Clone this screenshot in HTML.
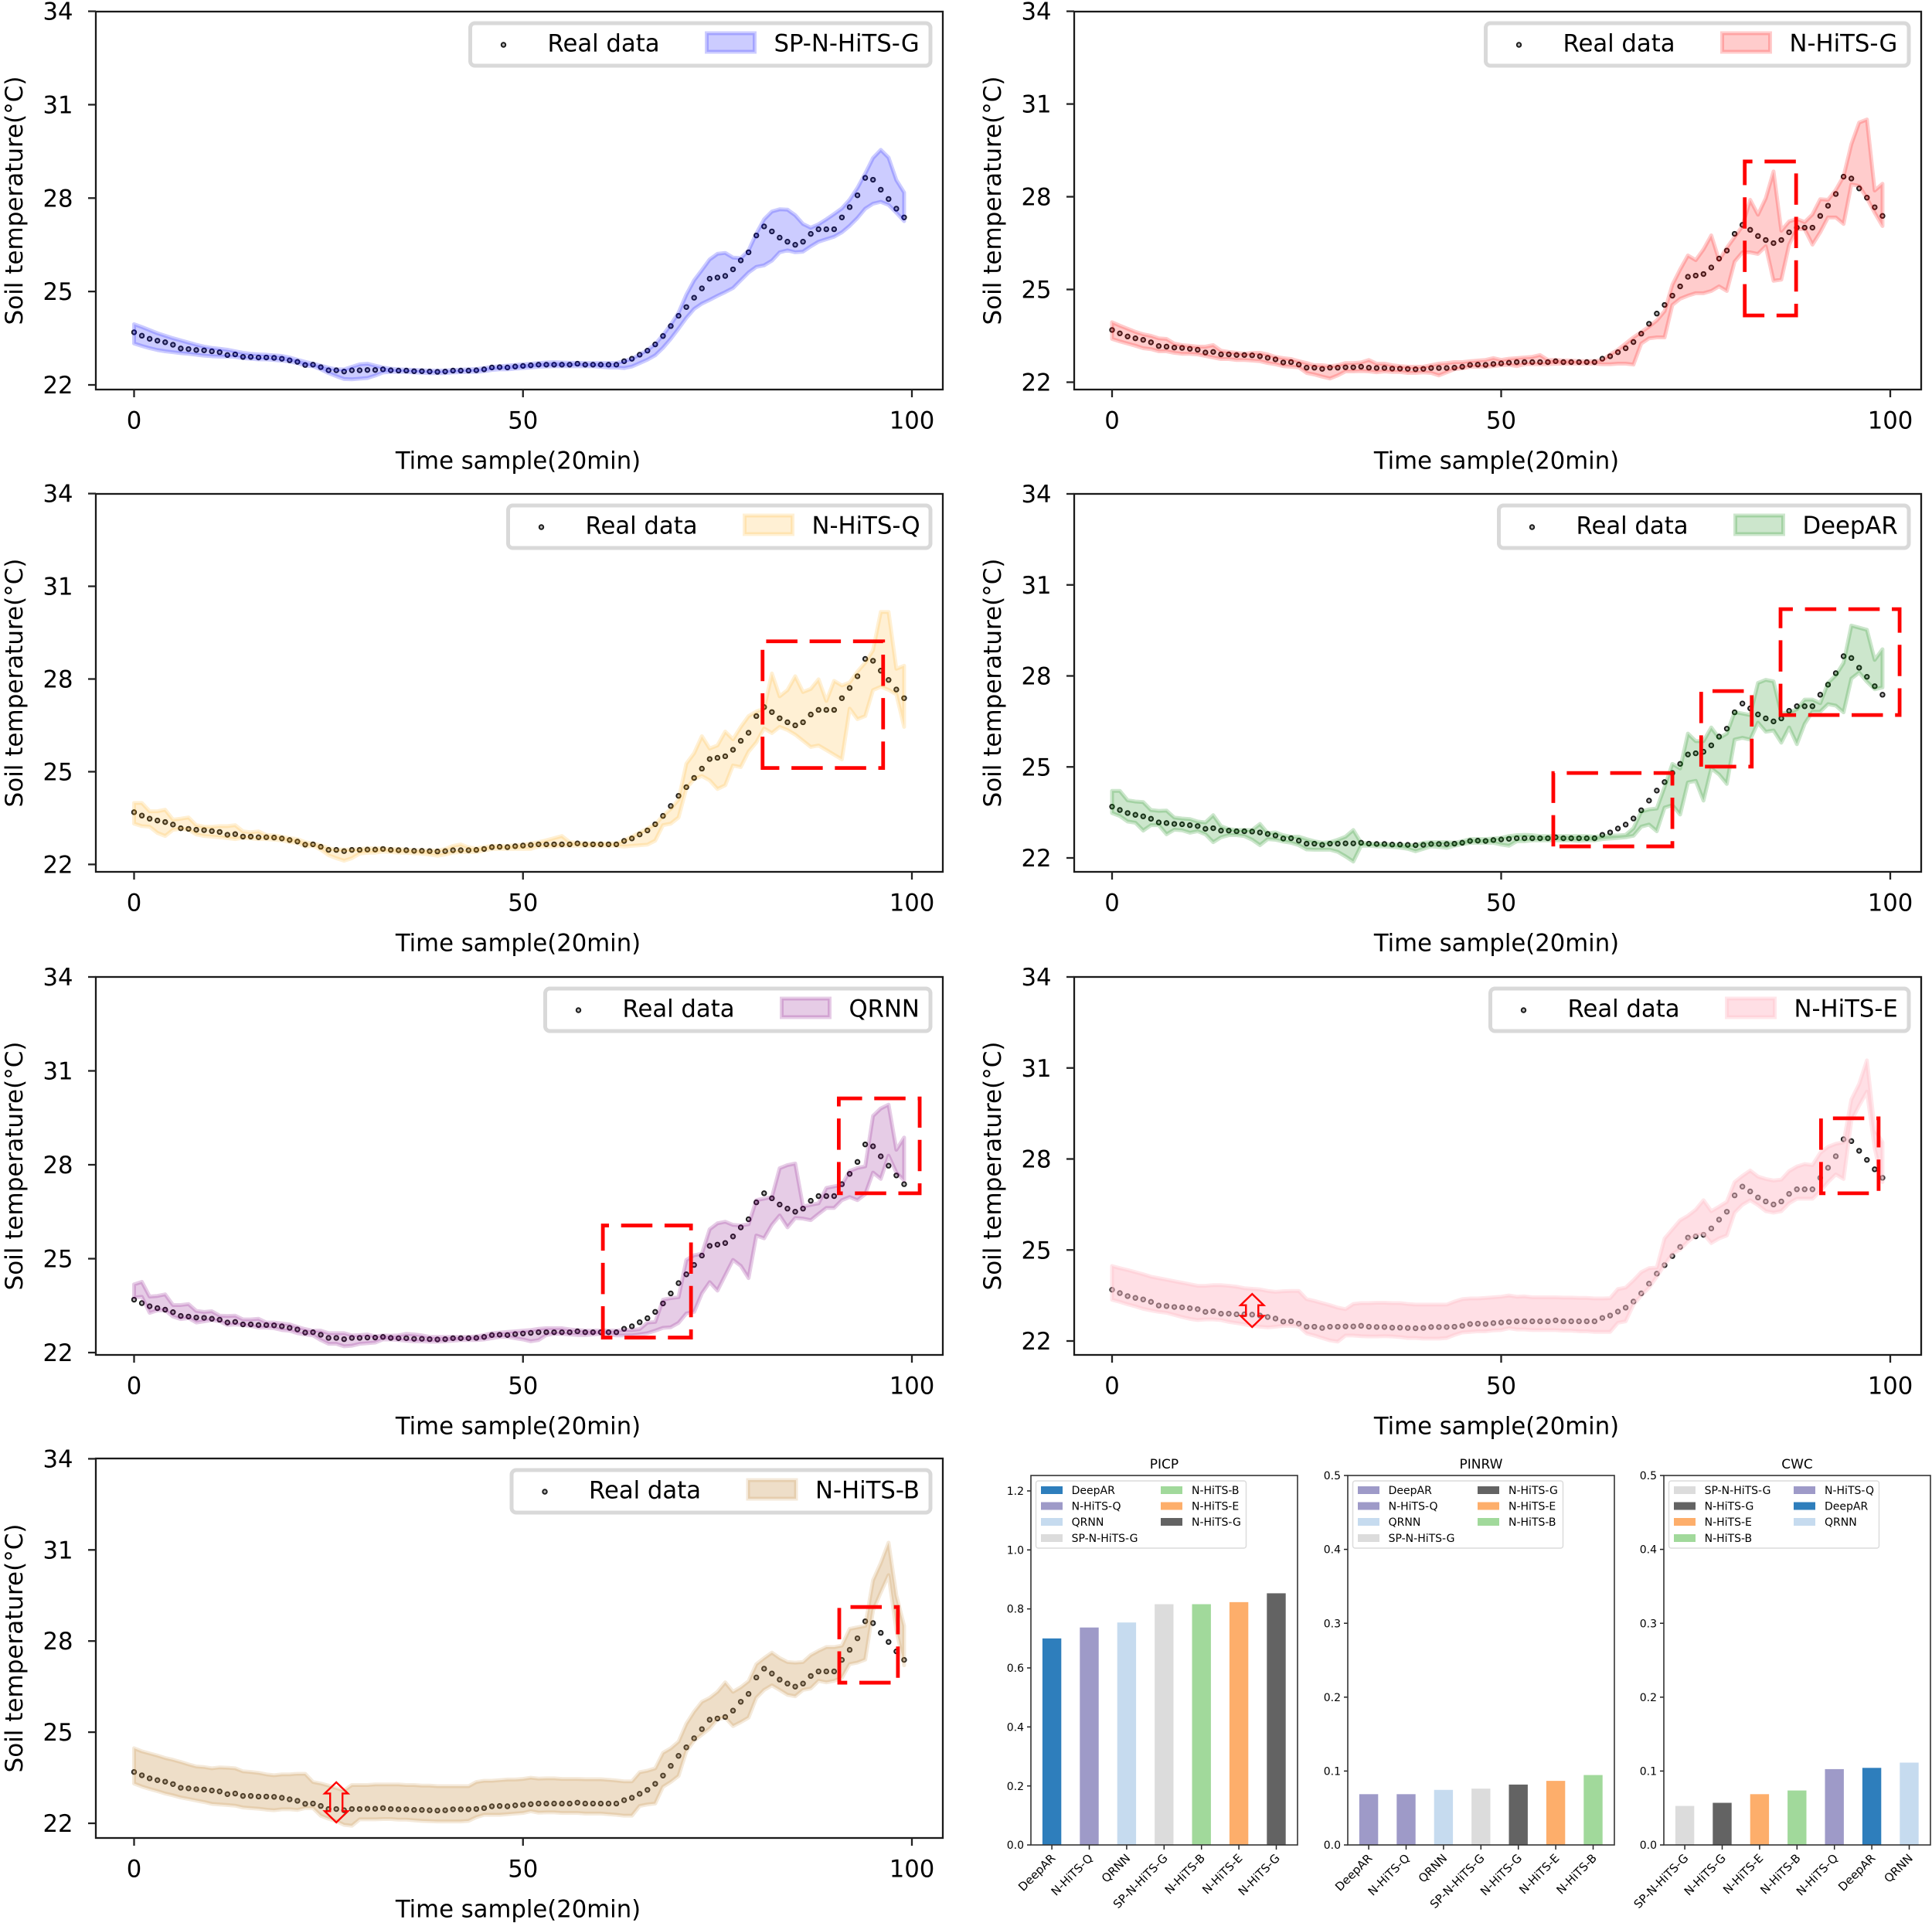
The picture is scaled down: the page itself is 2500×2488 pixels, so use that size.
<!DOCTYPE html>
<html lang="en">
<head>
<meta charset="utf-8">
<title>Soil temperature prediction intervals</title>
<style>
html,body{margin:0;padding:0;background:#fff;}
svg{display:block;position:absolute;left:0;top:0;}
text{font-family:"DejaVu Sans","Liberation Sans",sans-serif;fill:#000;}
</style>
</head>
<body>
<svg id="figure" xmlns="http://www.w3.org/2000/svg" width="2500" height="2488" viewBox="0 0 2500 2488"></svg>
<script>
const realData=[
23.69,23.58,23.48,23.42,23.37,23.29,23.17,23.15,23.12,23.11,
23.08,23.05,22.96,22.98,22.90,22.90,22.88,22.88,22.87,22.84,
22.79,22.74,22.64,22.65,22.57,22.47,22.47,22.43,22.47,22.47,
22.48,22.48,22.50,22.47,22.46,22.46,22.44,22.44,22.43,22.42,
22.43,22.46,22.46,22.46,22.47,22.50,22.56,22.57,22.56,22.59,
22.61,22.63,22.65,22.65,22.65,22.65,22.65,22.68,22.65,22.65,
22.65,22.65,22.65,22.76,22.84,22.97,23.10,23.30,23.57,23.89,
24.22,24.50,24.80,25.10,25.41,25.45,25.50,25.71,26.00,26.26,
26.80,27.09,26.93,26.73,26.60,26.50,26.60,26.85,27.00,27.00,
27.00,27.38,27.71,28.09,28.65,28.59,28.27,27.97,27.66,27.38];

const spGUpper=[
23.95,23.86,23.76,23.66,23.58,23.50,23.43,23.36,23.29,23.23,
23.19,23.16,23.13,23.08,23.03,23.00,22.98,22.97,22.95,22.93,
22.88,22.81,22.74,22.68,22.62,22.55,22.50,22.50,22.58,22.66,
22.68,22.62,22.56,22.52,22.50,22.49,22.48,22.47,22.46,22.46,
22.46,22.48,22.49,22.50,22.51,22.54,22.58,22.60,22.62,22.64,
22.66,22.68,22.70,22.72,22.73,22.72,22.71,22.71,22.70,22.70,
22.70,22.70,22.70,22.77,22.84,22.98,23.12,23.31,23.60,23.94,
24.32,24.90,25.36,25.69,26.03,26.21,26.24,26.09,26.07,26.32,
26.86,27.32,27.57,27.64,27.63,27.45,27.17,27.05,27.16,27.32,
27.49,27.67,27.95,28.33,28.79,29.29,29.55,29.30,28.58,28.18];
const spGLower=[
23.33,23.25,23.18,23.12,23.08,23.05,23.02,23.00,22.97,22.94,
22.92,22.91,22.91,22.90,22.86,22.84,22.82,22.82,22.80,22.78,
22.75,22.70,22.62,22.60,22.50,22.38,22.28,22.19,22.18,22.20,
22.22,22.30,22.40,22.42,22.42,22.42,22.40,22.39,22.38,22.38,
22.38,22.40,22.41,22.42,22.42,22.44,22.48,22.50,22.50,22.52,
22.54,22.56,22.58,22.59,22.60,22.60,22.60,22.60,22.60,22.60,
22.58,22.56,22.56,22.54,22.59,22.70,22.81,22.95,23.19,23.48,
23.81,24.15,24.44,24.61,24.73,24.86,24.98,25.11,25.36,25.61,
25.79,25.84,25.99,26.26,26.32,26.26,26.28,26.45,26.60,26.68,
26.76,26.90,27.11,27.36,27.66,27.82,27.88,27.78,27.53,27.26];

const gUpper=[
23.94,23.83,23.73,23.63,23.55,23.50,23.42,23.40,23.25,23.20,
23.18,23.15,23.15,23.20,23.02,22.98,22.95,22.92,22.95,22.95,
22.90,22.82,22.78,22.75,22.68,22.62,22.55,22.55,22.52,22.55,
22.62,22.62,22.64,22.72,22.60,22.60,22.55,22.52,22.50,22.50,
22.50,22.55,22.60,22.62,22.65,22.65,22.68,22.70,22.72,22.78,
22.72,22.76,22.78,22.80,22.82,22.88,22.72,22.72,22.70,22.70,
22.68,22.68,22.68,22.72,22.90,23.05,23.25,23.45,23.62,23.80,
24.00,24.30,25.15,25.65,26.10,25.95,26.30,26.75,25.95,26.35,
26.70,27.05,27.90,27.42,27.95,28.82,26.90,27.20,27.28,27.18,
27.43,27.92,27.90,28.22,28.66,29.70,30.40,30.50,28.20,28.42];
const gLower=[
23.40,23.32,23.25,23.18,23.10,23.07,23.00,23.00,22.95,22.92,
22.92,22.90,22.85,22.80,22.75,22.75,22.72,22.72,22.70,22.68,
22.62,22.58,22.52,22.50,22.48,22.30,22.25,22.18,22.12,22.22,
22.35,22.35,22.36,22.35,22.32,22.35,22.33,22.33,22.30,22.30,
22.32,22.30,22.22,22.32,22.42,22.45,22.50,22.50,22.50,22.52,
22.55,22.56,22.52,22.58,22.58,22.58,22.58,22.60,22.60,22.60,
22.60,22.60,22.60,22.58,22.58,22.60,22.60,22.57,23.25,23.42,
23.45,23.45,24.50,24.70,24.80,24.88,24.88,24.95,25.10,24.95,
25.90,26.20,26.20,26.15,26.40,25.28,25.32,26.45,26.95,26.95,
26.45,26.85,27.33,27.33,27.12,28.40,28.35,27.95,27.48,27.05];

const qUpper=[
23.99,23.99,23.72,23.72,23.77,23.45,23.48,23.52,23.27,23.22,
23.22,23.24,23.24,23.27,23.07,23.04,23.07,22.95,22.94,22.90,
22.85,22.82,22.72,22.67,22.62,22.52,22.48,22.48,22.48,22.50,
22.52,22.52,22.52,22.50,22.50,22.48,22.46,22.46,22.45,22.45,
22.50,22.60,22.65,22.55,22.52,22.56,22.60,22.60,22.60,22.62,
22.64,22.68,22.72,22.78,22.85,22.92,22.72,22.70,22.68,22.68,
22.68,22.68,22.68,22.78,22.90,23.03,23.16,23.30,23.57,23.80,
24.10,25.26,25.60,26.15,25.75,25.85,26.30,26.05,26.45,26.80,
26.95,27.04,28.18,27.44,27.64,28.09,27.58,27.68,27.99,27.29,
27.94,27.79,27.89,28.24,28.53,28.93,30.17,30.17,28.33,28.43];
const qLower=[
23.32,23.24,23.22,23.02,22.92,23.12,23.15,23.12,22.97,22.92,
22.90,22.88,22.85,22.82,22.86,22.84,22.82,22.82,22.80,22.78,
22.72,22.70,22.58,22.60,22.48,22.30,22.20,22.12,22.20,22.35,
22.38,22.38,22.42,22.40,22.38,22.38,22.36,22.35,22.32,22.28,
22.32,22.38,22.40,22.40,22.40,22.45,22.50,22.50,22.50,22.50,
22.50,22.50,22.58,22.58,22.58,22.60,22.60,22.60,22.60,22.60,
22.60,22.60,22.60,22.58,22.60,22.62,22.64,22.77,23.27,23.32,
23.52,24.46,24.76,24.86,24.72,24.44,24.56,25.20,25.15,25.65,
25.95,26.40,26.25,26.45,26.35,26.20,26.00,25.80,25.85,25.70,
25.55,25.40,27.04,26.70,26.80,27.64,27.75,27.65,27.50,26.45];

const deepArUpper=[
24.21,24.21,23.90,23.86,23.84,23.58,23.55,23.56,23.33,23.30,
23.28,23.20,23.17,23.41,23.05,22.95,22.92,22.92,22.92,23.12,
22.82,22.84,22.75,22.70,22.70,22.62,22.55,22.50,22.52,22.60,
22.70,22.92,22.50,22.48,22.46,22.46,22.44,22.44,22.43,22.42,
22.50,22.52,22.52,22.52,22.50,22.55,22.62,22.62,22.62,22.64,
22.66,22.72,22.75,22.76,22.75,22.72,22.72,22.72,22.72,22.72,
22.72,22.72,22.70,22.72,22.74,22.74,22.76,22.98,23.53,23.60,
23.63,24.34,25.10,24.95,26.10,25.85,25.85,26.30,25.95,26.10,
26.81,26.76,26.71,27.77,27.87,27.82,26.76,26.80,26.90,27.22,
27.22,27.10,27.77,28.02,28.43,29.66,29.59,29.52,28.53,28.88];
const deepArLower=[
23.48,23.38,23.20,23.16,22.90,23.08,23.08,22.78,22.93,22.91,
22.83,22.88,22.78,22.52,22.68,22.75,22.75,22.72,22.60,22.42,
22.62,22.60,22.54,22.50,22.42,22.28,22.27,22.27,22.27,22.20,
22.05,21.88,22.40,22.40,22.38,22.38,22.36,22.34,22.30,22.22,
22.30,22.38,22.36,22.33,22.40,22.45,22.50,22.50,22.50,22.50,
22.44,22.40,22.55,22.55,22.58,22.58,22.58,22.58,22.58,22.58,
22.56,22.58,22.58,22.62,22.64,22.66,22.68,22.73,23.03,23.10,
22.88,23.66,23.74,23.43,24.49,24.54,23.89,24.95,24.75,24.44,
25.90,25.96,25.90,26.46,26.16,26.20,25.80,26.30,25.75,26.42,
26.82,26.82,27.07,27.02,26.80,27.91,28.11,27.81,27.56,27.62];

const qrnnUpper=[
24.18,24.26,23.79,23.81,23.86,23.52,23.52,23.55,23.33,23.30,
23.32,23.18,23.17,23.18,23.06,23.06,23.08,22.96,22.96,22.93,
22.90,22.82,22.75,22.70,22.70,22.62,22.62,22.62,22.55,22.56,
22.58,22.52,22.55,22.54,22.55,22.60,22.58,22.55,22.50,22.50,
22.50,22.50,22.50,22.50,22.52,22.56,22.62,22.64,22.66,22.68,
22.70,22.72,22.76,22.78,22.78,22.78,22.74,22.72,22.70,22.70,
22.70,22.70,22.70,22.72,22.72,22.75,22.96,22.98,23.69,23.74,
23.77,24.96,25.11,25.16,25.94,26.13,26.18,26.08,26.06,26.10,
26.87,26.92,26.97,27.89,27.99,28.04,26.67,26.72,26.77,27.26,
27.31,27.36,27.80,27.90,27.95,29.56,29.80,29.92,28.48,28.87];
const qrnnLower=[
23.76,23.78,23.27,23.35,23.35,23.15,23.07,23.10,22.96,23.00,
23.04,23.00,22.88,22.90,22.88,22.85,22.80,22.80,22.78,22.72,
22.70,22.62,22.58,22.55,22.40,22.28,22.28,22.20,22.22,22.28,
22.30,22.32,22.42,22.42,22.40,22.38,22.36,22.36,22.35,22.35,
22.36,22.38,22.40,22.40,22.40,22.42,22.46,22.50,22.50,22.46,
22.42,22.36,22.40,22.56,22.60,22.60,22.58,22.56,22.56,22.58,
22.60,22.58,22.55,22.55,22.55,22.58,22.62,22.70,22.79,22.81,
22.95,23.25,23.30,23.89,24.25,23.98,24.47,24.96,24.77,24.38,
25.74,25.65,26.08,26.38,26.00,26.30,26.28,26.23,26.43,26.62,
26.62,26.87,26.97,26.87,27.06,27.75,27.55,28.29,27.75,27.50];

const eUpper=[
24.47,24.40,24.34,24.27,24.20,24.12,24.07,24.02,23.97,23.92,
23.87,23.82,23.82,23.84,23.84,23.82,23.79,23.74,23.72,23.70,
23.65,23.62,23.64,23.65,23.65,23.38,23.32,23.25,23.18,23.10,
23.05,23.22,23.25,23.25,23.26,23.26,23.25,23.25,23.22,23.20,
23.20,23.20,23.20,23.20,23.30,23.38,23.40,23.40,23.42,23.44,
23.46,23.50,23.46,23.47,23.44,23.44,23.44,23.44,23.43,23.43,
23.42,23.42,23.40,23.40,23.41,23.71,23.76,24.00,24.27,24.40,
24.42,25.38,25.68,25.98,26.13,26.33,26.64,26.28,26.43,26.59,
27.24,27.44,27.62,27.42,27.34,27.29,27.32,27.60,27.75,27.83,
27.80,28.20,28.40,28.50,28.55,29.96,30.47,31.25,28.96,28.55];
const eLower=[
23.36,23.29,23.21,23.14,23.06,23.01,22.96,22.93,22.86,22.79,
22.73,22.69,22.71,22.71,22.69,22.63,22.59,22.55,22.50,22.47,
22.45,22.47,22.50,22.50,22.48,22.25,22.18,22.10,22.02,21.98,
22.18,22.18,22.16,22.15,22.15,22.16,22.15,22.13,22.10,22.10,
22.08,22.08,22.08,22.10,22.20,22.28,22.30,22.32,22.32,22.35,
22.36,22.42,22.38,22.38,22.36,22.36,22.36,22.36,22.34,22.34,
22.32,22.32,22.30,22.30,22.30,22.60,22.65,23.20,23.50,23.76,
24.12,24.52,24.87,25.02,25.28,25.48,25.53,25.23,25.38,25.48,
26.23,26.49,26.64,26.48,26.28,26.23,26.28,26.54,26.69,26.69,
26.69,26.94,27.24,27.49,27.34,29.26,29.76,30.22,28.35,27.24];

const bUpper=[
24.47,24.37,24.30,24.23,24.15,24.09,24.02,23.94,23.87,23.85,
23.81,23.84,23.83,23.81,23.71,23.69,23.66,23.61,23.58,23.61,
23.61,23.63,23.63,23.36,23.31,23.24,23.16,23.08,23.26,23.26,
23.26,23.28,23.28,23.28,23.28,23.26,23.26,23.24,23.24,23.22,
23.22,23.22,23.22,23.22,23.36,23.40,23.40,23.42,23.44,23.44,
23.46,23.50,23.47,23.48,23.48,23.46,23.46,23.46,23.45,23.45,
23.45,23.43,23.41,23.38,23.38,23.68,23.73,23.81,24.32,24.47,
24.69,25.28,25.68,26.00,26.13,26.33,26.64,26.33,26.48,26.68,
27.24,27.44,27.62,27.44,27.31,27.29,27.31,27.54,27.68,27.80,
27.80,27.85,28.40,28.45,28.50,30.00,30.57,31.24,29.50,28.50];
const bLower=[
23.31,23.21,23.13,23.06,22.98,22.92,22.85,22.80,22.75,22.70,
22.64,22.62,22.60,22.58,22.52,22.50,22.48,22.45,22.43,22.46,
22.46,22.44,22.50,22.50,22.25,22.15,22.07,21.95,21.92,22.13,
22.13,22.13,22.14,22.14,22.12,22.12,22.10,22.08,22.07,22.06,
22.06,22.06,22.06,22.08,22.20,22.28,22.28,22.28,22.30,22.32,
22.34,22.40,22.35,22.36,22.36,22.34,22.34,22.34,22.32,22.32,
22.32,22.30,22.28,22.25,22.25,22.57,22.62,22.65,23.20,23.36,
23.56,24.37,24.72,24.92,25.12,25.42,25.48,25.20,25.33,25.48,
26.13,26.39,26.54,26.39,26.23,26.18,26.39,26.44,26.69,26.64,
26.69,26.79,27.24,27.29,27.39,29.00,29.60,30.17,28.36,27.20];

const xTickValues=[0,50,100];
const yTickValues=[22,25,28,31,34];

const picpCategories=["DeepAR","N-HiTS-Q","QRNN","SP-N-HiTS-G","N-HiTS-B","N-HiTS-E","N-HiTS-G"];
const picpValues=[0.70,0.737,0.754,0.816,0.816,0.823,0.853];
const pinrwCategories=["DeepAR","N-HiTS-Q","QRNN","SP-N-HiTS-G","N-HiTS-G","N-HiTS-E","N-HiTS-B"];
const pinrwValues=[0.0687,0.0687,0.0745,0.0762,0.0817,0.0867,0.0946];
const cwcCategories=["SP-N-HiTS-G","N-HiTS-G","N-HiTS-E","N-HiTS-B","N-HiTS-Q","DeepAR","QRNN"];
const cwcValues=[0.0528,0.057,0.0687,0.0737,0.1026,0.1043,0.1114];
const picpTicks=[0,0.2,0.4,0.6,0.8,1.0,1.2];
const rateTicks=[0,0.1,0.2,0.3,0.4,0.5];

const NS="http://www.w3.org/2000/svg";
const svg=document.getElementById("figure");
function mk(tag,attrs,parent){
  const n=document.createElementNS(NS,tag);
  for(const k in attrs){n.setAttribute(k,attrs[k]);}
  parent.appendChild(n);
  return n;
}

const bandPanels=[
 {label:"SP-N-HiTS-G",slug:"sp-n-hits-g",upper:spGUpper,lower:spGLower,color:"rgb(0,0,255)",alpha:0.2,strokeAlpha:0.2,left:124,right:1220,top:15,bottom:504,x0:173.5,x100:1180,y22:498,y34:14.6,legendLeft:611,
  boxes:[],arrows:[]},
 {label:"N-HiTS-G",slug:"n-hits-g",upper:gUpper,lower:gLower,color:"rgb(255,0,0)",alpha:0.2,strokeAlpha:0.2,left:1390,right:2486,top:15,bottom:504,x0:1439,x100:2446,y22:494.5,y34:14.6,legendLeft:1925,
  boxes:[[81.3,87.9,29.14,24.16]],arrows:[]},
 {label:"N-HiTS-Q",slug:"n-hits-q",upper:qUpper,lower:qLower,color:"rgb(255,165,0)",alpha:0.17,strokeAlpha:0.17,left:124,right:1220,top:639,bottom:1128,x0:173.5,x100:1180,y22:1118.4,y34:638.6,legendLeft:660,
  boxes:[[80.8,96.3,29.22,25.12]],arrows:[]},
 {label:"DeepAR",slug:"deepar",upper:deepArUpper,lower:deepArLower,color:"rgb(0,128,0)",alpha:0.2,strokeAlpha:0.2,left:1390,right:2486,top:639,bottom:1128,x0:1439,x100:2446,y22:1110,y34:639,legendLeft:1942,
  boxes:[[56.7,72.0,24.80,22.38],[75.7,82.2,27.50,25.01],[85.9,101.2,30.20,26.71]],arrows:[]},
 {label:"QRNN",slug:"qrnn",upper:qrnnUpper,lower:qrnnLower,color:"rgb(128,0,128)",alpha:0.2,strokeAlpha:0.2,left:124,right:1220,top:1264,bottom:1753,x0:173.5,x100:1180,y22:1750,y34:1264,legendLeft:708,
  boxes:[[60.27,71.6,26.06,22.48],[90.6,101.0,30.12,27.09]],arrows:[]},
 {label:"N-HiTS-E",slug:"n-hits-e",upper:eUpper,lower:eLower,color:"rgb(255,192,203)",alpha:0.5,strokeAlpha:0.4,left:1390,right:2486,top:1264,bottom:1753,x0:1439,x100:2446,y22:1735,y34:1264,legendLeft:1931,
  boxes:[[91.1,98.5,29.34,26.87]],arrows:[[18.0,23.55,22.46]]},
 {label:"N-HiTS-B",slug:"n-hits-b",upper:bUpper,lower:bLower,color:"rgb(198,145,72)",alpha:0.3,strokeAlpha:0.2,left:124,right:1220,top:1887,bottom:2378,x0:173.5,x100:1180,y22:2359,y34:1887.4,legendLeft:664.5,
  boxes:[[90.66,98.2,29.12,26.63]],arrows:[[26.0,23.35,22.03]]}
];

function drawBandPanel(p){
  const sx=v=>p.x0+(v/100)*(p.x100-p.x0);
  const sy=v=>p.y22+(v-22)/12*(p.y34-p.y22);
  const g=mk("g",{},svg);
  
  

  // real data points sit underneath the band
  realData.forEach((v,i)=>{
    const d=mk("circle",{cx:sx(i).toFixed(2),cy:sy(v).toFixed(2),r:2.7,fill:"#bbb",stroke:"#1c1c1c","stroke-width":2},g);
    
    
  });

  const pts=[];
  p.upper.forEach((v,i)=>pts.push(sx(i).toFixed(2)+","+sy(v).toFixed(2)));
  for(let i=p.lower.length-1;i>=0;i--){pts.push(sx(i).toFixed(2)+","+sy(p.lower[i]).toFixed(2));}
  const band=mk("polygon",{points:pts.join(" "),fill:p.color,"fill-opacity":p.alpha,stroke:p.color,"stroke-opacity":p.strokeAlpha,"stroke-width":5,"stroke-linejoin":"round"},g);
  
  

  // dashed red highlight boxes: clockwise from the lower-left corner
  p.boxes.forEach(b=>{
    const x1=sx(b[0]),x2=sx(b[1]),yT=sy(b[2]),yB=sy(b[3]);
    const r=mk("path",{d:`M${x1} ${yB}L${x1} ${yT}L${x2} ${yT}L${x2} ${yB}Z`,fill:"none",stroke:"#f00","stroke-width":4.8,"stroke-dasharray":"40.5 15.7","stroke-linejoin":"miter"},g);
    
    
  });

  // hollow double arrows
  p.arrows.forEach(a=>{
    const x=sx(a[0]),t=sy(a[1]),b=sy(a[2]);
    const d=`M${x} ${t}L${x+15} ${t+14.5}L${x+8} ${t+14.5}L${x+8} ${b-14.5}L${x+15} ${b-14.5}L${x} ${b}L${x-15} ${b-14.5}L${x-8} ${b-14.5}L${x-8} ${t+14.5}L${x-15} ${t+14.5}Z`;
    const ar=mk("path",{d:d,fill:"none",stroke:"#f00","stroke-width":2.4},g);
    
    
  });

  // frame
  const frame=mk("rect",{x:p.left,y:p.top,width:p.right-p.left,height:p.bottom-p.top,fill:"none",stroke:"#1a1a1a","stroke-width":2.3},g);
  
  

  // ticks
  xTickValues.forEach(v=>{
    const t=mk("line",{x1:sx(v),x2:sx(v),y1:p.bottom,y2:p.bottom+10,stroke:"#222","stroke-width":2.3},g);
    
    
    const l=mk("text",{x:sx(v),y:p.bottom+50.7,"text-anchor":"middle","font-size":30.7},g);
    l.textContent=String(v);
    
    
  });
  yTickValues.forEach(v=>{
    const t=mk("line",{x1:p.left-10,x2:p.left,y1:sy(v),y2:sy(v),stroke:"#222","stroke-width":2.3},g);
    
    
    const l=mk("text",{x:p.left-29.5,y:sy(v)+11,"text-anchor":"end","font-size":30.7},g);
    l.textContent=String(v);
    
    
  });

  // axis titles
  const xt=mk("text",{x:(p.left+p.right)/2-1.5,y:p.bottom+102.5,"text-anchor":"middle","font-size":30.7},g);
  xt.textContent="Time sample(20min)";
  
  
  const yc=(p.top+p.bottom)/2;
  const yt=mk("text",{x:p.left-95,y:yc,"text-anchor":"middle","font-size":31,transform:`rotate(-90 ${p.left-95} ${yc})`},g);
  yt.textContent="Soil temperature(°C)";
  
  

  // legend
  const lg=mk("g",{},g);
  
  
  const L=p.legendLeft-2.5,T=p.top+15,R=p.right-16;
  const box=mk("rect",{x:L,y:T,width:R-L,height:55,rx:6,fill:"#fff",stroke:"#d9d9d9","stroke-width":5},lg);
  
  
  const mkr=mk("circle",{cx:L+43,cy:T+28,r:2.7,fill:"#bbb",stroke:"#1c1c1c","stroke-width":2},lg);
  
  
  const t1=mk("text",{x:L+100,y:T+36.5,"font-size":30.7},lg);
  t1.textContent="Real data";
  
  
  const sw=mk("rect",{x:L+306,y:T+13,width:62,height:24,fill:p.color,"fill-opacity":p.alpha,stroke:p.color,"stroke-opacity":p.strokeAlpha,"stroke-width":5},lg);
  
  
  const t2=mk("text",{x:L+393,y:T+36.5,"font-size":30.7},lg);
  t2.textContent=p.label;
  
  
}
bandPanels.forEach(drawBandPanel);

const baseColors={"DeepAR":"#2e7ebc","N-HiTS-Q":"#9e9ac8","QRNN":"#c6dbef","SP-N-HiTS-G":"#dcdcdc","N-HiTS-B":"#a1d99b","N-HiTS-E":"#fdae6b","N-HiTS-G":"#636363"};
const pinrwColors=Object.assign({},baseColors,{"DeepAR":"#9e9ac8"});

const barCharts=[
 {title:"PICP",left:1334,cats:picpCategories,vals:picpValues,ticks:picpTicks,unit:381.7,colors:baseColors,dec:1},
 {title:"PINRW",left:1744,cats:pinrwCategories,vals:pinrwValues,ticks:rateTicks,unit:956,colors:pinrwColors,dec:1},
 {title:"CWC",left:2153,cats:cwcCategories,vals:cwcValues,ticks:rateTicks,unit:956,colors:baseColors,dec:1}
];

function drawBarChart(c){
  const W=345,top=1909,bottom=2387,step=48.4;
  const sx=i=>c.left+(i+0.56)*step;
  const sy=v=>bottom-v*c.unit;
  const g=mk("g",{},svg);
  
  

  c.vals.forEach((v,i)=>{
    const b=mk("rect",{x:sx(i)-12.2,y:sy(v),width:24.4,height:bottom-sy(v),fill:c.colors[c.cats[i]]},g);
    
    
    const t=mk("line",{x1:sx(i),x2:sx(i),y1:bottom,y2:bottom+6,stroke:"#222","stroke-width":1.5},g);
    
    
    const ax=sx(i)+5.5,ay=bottom+18;
    const l=mk("text",{x:ax,y:ay,"text-anchor":"end","font-size":15,transform:`rotate(-45 ${ax} ${ay})`},g);
    l.textContent=c.cats[i];
    
    
  });

  c.ticks.forEach(v=>{
    const t=mk("line",{x1:c.left-5,x2:c.left,y1:sy(v),y2:sy(v),stroke:"#222","stroke-width":1.5},g);
    
    
    const l=mk("text",{x:c.left-9,y:sy(v)+5.1,"text-anchor":"end","font-size":14},g);
    l.textContent=v.toFixed(c.dec);
    
    
  });

  const frame=mk("rect",{x:c.left,y:top,width:W,height:bottom-top,fill:"none",stroke:"#333","stroke-width":1.6},g);
  
  

  const title=mk("text",{x:c.left+W/2,y:1900,"text-anchor":"middle","font-size":17},g);
  title.textContent=c.title;
  
  

  const lg=mk("g",{},g);
  
  
  const box=mk("rect",{x:c.left+6.5,y:1916,width:272,height:87,rx:3,fill:"#fff",stroke:"#dcdcdc","stroke-width":1.5},lg);
  
  
  const rowY=[1928,1948.5,1969,1990];
  c.cats.forEach((cat,i)=>{
    const col=i<4?0:1,row=i<4?i:i-4;
    const hx=c.left+(col?168:13),tx=c.left+(col?208:52.6),y=rowY[row];
    const s=mk("rect",{x:hx,y:y-5,width:28,height:10,fill:c.colors[cat]},lg);
    
    
    const t=mk("text",{x:tx,y:y+5,"font-size":14},lg);
    t.textContent=cat;
    
    
  });
}
barCharts.forEach(drawBarChart);
</script>
</body>
</html>
